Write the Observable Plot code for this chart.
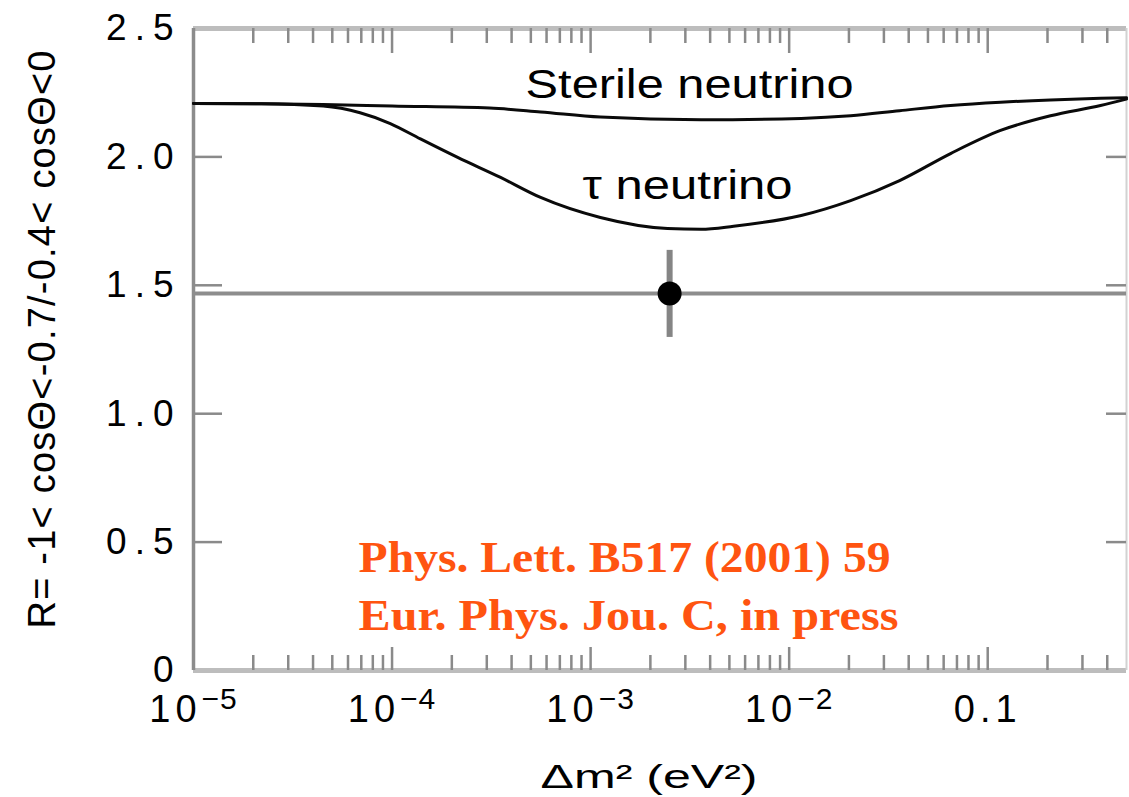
<!DOCTYPE html>
<html>
<head>
<meta charset="utf-8">
<script src="https://cdn.jsdelivr.net/npm/d3@7"></script>
<script src="https://cdn.jsdelivr.net/npm/@observablehq/plot@0.6"></script>
<style>
  html, body { margin: 0; padding: 0; background: #fff; }
  #chart svg { display: block; }
</style>
</head>
<body>
<div id="chart"></div>
<script>
// ---- data ----
const sterileX = [1e-5, 2.2e-5, 4.5e-5, 1e-4, 3.1e-4, 5.6e-4, 1.12e-3, 3.6e-3, 1.15e-2, 2.04e-2, 3.6e-2, 6.5e-2, 0.116, 0.207, 0.37, 0.5];
const sterileY = [2.208, 2.207, 2.204, 2.198, 2.19, 2.175, 2.155, 2.145, 2.15, 2.16, 2.18, 2.20, 2.213, 2.222, 2.228, 2.23];

const tauX = [1e-5, 2.2e-5, 4.5e-5, 6.9e-5, 9.8e-5, 1.39e-4, 2.14e-4, 3.52e-4, 5.6e-4, 1.12e-3, 2.44e-3, 3.6e-3, 5.25e-3, 1.15e-2, 2.04e-2, 3.6e-2, 6.5e-2, 0.116, 0.207, 0.37, 0.5];
const tauY = [2.208, 2.207, 2.198, 2.172, 2.13, 2.07, 1.998, 1.92, 1.842, 1.764, 1.721, 1.718, 1.73, 1.772, 1.83, 1.908, 2.013, 2.103, 2.16, 2.2, 2.225];

const measX = [2.5e-3];
const measR = [1.468];
const measLo = [1.297];
const measHi = [1.636];

const xTicks = [1e-5, 1e-4, 1e-3, 1e-2, 0.1];
const xTickLabels = ["10^\u22125", "10^\u22124", "10^\u22123", "10^\u22122", "0.1"];
const yTicks = [0, 0.5, 1, 1.5, 2, 2.5];
const yTickLabels = ["0", "0.5", "1.0", "1.5", "2.0", "2.5"];
const yInnerTicks = [0.5, 1, 1.5, 2];

const annLabels = ["Sterile neutrino", "\u03c4 neutrino"];
const annX = [3.15e-3, 3.08e-3];
const annY = [2.231, 1.838];

const refLines = ["Phys. Lett. B517 (2001) 59", "Eur. Phys. Jou. C, in press"];
const refX = [6.78e-5, 6.78e-5];
const refY = [0.382, 0.156];

const xTitle = "\u0394m\u00b2 (eV\u00b2)";
const yTitle = "R= -1< cos\u0398<-0.7/-0.4< cos\u0398<0";

// ---- layout / style constants ----
const W = 1129, H = 797;
const mL = 193, mR = 3, mT = 28, mB = 127;
const xDomain = [1e-5, 0.5];
const yDomain = [0, 2.5];
const yUnitPerPx = (yDomain[1] - yDomain[0]) / (H - mT - mB);
const decadePx = (W - mL - mR) / Math.log10(xDomain[1] / xDomain[0]);

// minor tick positions (2..9 in each decade)
const minorTicks = [];
for (const d of xTicks) for (let k = 2; k <= 9; k++) { const v = d * k; if (v < xDomain[1]) minorTicks.push(v); }

const tickColor = "#8a8a8a";
const frameColor = "#bdbdbd";

const plot = Plot.plot({
  width: W, height: H,
  marginLeft: mL, marginRight: mR, marginTop: mT, marginBottom: mB,
  x: {type: "log", domain: xDomain},
  y: {domain: yDomain},
  style: {fontFamily: "'Liberation Sans', Arial, sans-serif", background: "#fff", color: "#000"},
  marks: [
    // frame
    Plot.ruleY([yDomain[0]], {stroke: frameColor, strokeWidth: 5}),
    Plot.ruleY([yDomain[1]], {stroke: frameColor, strokeWidth: 5}),
    Plot.ruleX([xDomain[1]], {stroke: "#d2d2d2", strokeWidth: 2}),
    // inward ticks, bottom & top
    Plot.ruleX(minorTicks, {y1: yDomain[0], y2: yDomain[0] + 15 * yUnitPerPx, stroke: tickColor, strokeWidth: 2.5}),
    Plot.ruleX(xTicks, {y1: yDomain[0], y2: yDomain[0] + 23 * yUnitPerPx, stroke: tickColor, strokeWidth: 2.5}),
    Plot.ruleX(minorTicks, {y1: yDomain[1] - 15 * yUnitPerPx, y2: yDomain[1], stroke: tickColor, strokeWidth: 2.5}),
    Plot.ruleX(xTicks, {y1: yDomain[1] - 25 * yUnitPerPx, y2: yDomain[1], stroke: tickColor, strokeWidth: 2.5}),
    // inward ticks, left & right
    Plot.ruleY(yInnerTicks, {x1: xDomain[0], x2: xDomain[0] * Math.pow(10, 29 / decadePx), stroke: tickColor, strokeWidth: 2.5}),
    Plot.ruleY(yInnerTicks, {x1: xDomain[1] / Math.pow(10, 20 / decadePx), x2: xDomain[1], stroke: tickColor, strokeWidth: 2.5}),
    Plot.ruleX([xDomain[0]], {stroke: "#8c8c8c", strokeWidth: 3.5}),
    // measurement
    Plot.ruleY(measR, {y: measR, stroke: "#8d8d8d", strokeWidth: 4}),
    Plot.ruleX(measX, {x: measX, y1: measLo, y2: measHi, stroke: "#858585", strokeWidth: 6}),
    Plot.dot(measX, {x: measX, y: measR, r: 12, fill: "#000", stroke: null}),
    // curves
    Plot.line(sterileX, {x: sterileX, y: sterileY, curve: "monotone-x", stroke: "#0a0a0a", strokeWidth: 3}),
    Plot.line(tauX, {x: tauX, y: tauY, curve: "monotone-x", stroke: "#0a0a0a", strokeWidth: 3}),
    // axes
    Plot.axisX(xTicks, {tickFormat: d => xTickLabels[xTicks.indexOf(d)], tickSize: 0, tickPadding: 25, fontSize: 38, label: null}),
    Plot.axisY(yTicks, {tickFormat: d => yTickLabels[yTicks.indexOf(d)], tickSize: 0, tickPadding: 12, fontSize: 37, label: null}),
    // annotations
    Plot.text(annLabels, {x: (d, i) => annX[i], y: (d, i) => annY[i], text: d => d, lineAnchor: "bottom", fontSize: 40, fill: "#000", ariaDescription: "curve-labels"}),
    Plot.text(refLines, {x: (d, i) => refX[i], y: (d, i) => refY[i], text: d => d, textAnchor: "start", lineAnchor: "bottom",
      fontFamily: "'Liberation Serif', 'Times New Roman', serif", fontWeight: "bold", fontSize: 45, fill: "#ff5410", ariaDescription: "references"}),
    Plot.text([xTitle], {frameAnchor: "bottom", textAnchor: "middle", lineAnchor: "bottom", dx: -11, dy: 117, fontSize: 33, fill: "#000", ariaDescription: "x-title"}),
    Plot.text([yTitle], {frameAnchor: "left", textAnchor: "middle", lineAnchor: "middle", rotate: -90, dx: -151, dy: -10, fontSize: 38, fill: "#000", ariaDescription: "y-title"})
  ]
});

document.getElementById("chart").appendChild(plot);

// ---- typographic post-processing (superscripts, stretched look of the original) ----
const s = d3.select(plot);
s.selectAll('g[aria-label="x-axis tick label"] text').each(function () {
  const t = this.textContent;
  if (t.includes("^")) {
    const [b, e] = t.split("^");
    this.textContent = "";
    d3.select(this).append("tspan").text(b);
    d3.select(this).append("tspan").attr("dy", "-0.45em").attr("font-size", 30).attr("letter-spacing", 1).text(e);
  }
});
s.selectAll('g[aria-label="x-axis tick label"]').attr("letter-spacing", 5);
s.selectAll('g[aria-label="y-axis tick label"]').attr("letter-spacing", 8);

// text mark groups in mark order, as a fallback if aria-description is not set
const textGroups = s.selectAll('g[aria-label="text"]').nodes();
function fit(desc, idx, lengths, adjust) {
  let g = s.select(`g[aria-description="${desc}"]`).node();
  if (!g) g = textGroups[idx];
  if (!g) return;
  d3.select(g).selectAll("text").each(function (d, i) {
    this.setAttribute("textLength", lengths[i]);
    this.setAttribute("lengthAdjust", adjust);
  });
}
fit("curve-labels", 0, [328, 210], "spacingAndGlyphs");
fit("references", 1, [532, 540], "spacingAndGlyphs");
fit("x-title", 2, [217], "spacingAndGlyphs");
fit("y-title", 3, [578], "spacing");
</script>
</body>
</html>
